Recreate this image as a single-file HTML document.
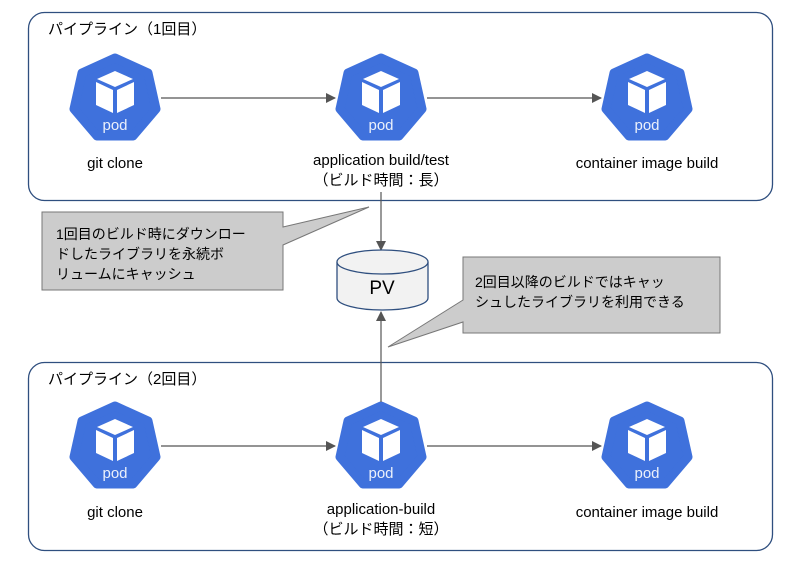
<!DOCTYPE html>
<html><head><meta charset="utf-8"><style>
body{margin:0;background:#fff}
svg{display:block}
text{font-family:"Liberation Sans","Noto Sans CJK JP",sans-serif}
</style></head><body>
<svg width="796" height="566" viewBox="0 0 796 566" xmlns="http://www.w3.org/2000/svg">
<defs>
<marker id="a" markerWidth="10" markerHeight="10" refX="9" refY="5" orient="auto" markerUnits="userSpaceOnUse"><path d="M0,0 L10,5 L0,10 Z" fill="#555"/></marker>
<g id="pod">
<path d="M0,-40 L33,-25 L41,11 L18,38 L-18,38 L-41,11 L-33,-25 Z" fill="#3f71dc" stroke="#3f71dc" stroke-width="9" stroke-linejoin="round"/>
<path d="M0,-27 L18,-19 L0,-11 L-18,-19 Z" fill="#fff"/>
<path d="M-19,-16 L-2,-8 L-2,15 L-19,7 Z" fill="#fff"/>
<path d="M19,-16 L2,-8 L2,15 L19,7 Z" fill="#fff"/>
<text x="0" y="32" font-size="15" fill="#fff" text-anchor="middle" opacity="0.9">pod</text>
</g>
</defs>
<rect x="28.5" y="12.5" width="744" height="188" rx="16" fill="#fff" stroke="#2f4f7f" stroke-width="1.3"/>
<rect x="28.5" y="362.5" width="744" height="188" rx="16" fill="#fff" stroke="#2f4f7f" stroke-width="1.3"/>
<text x="48" y="34" font-size="15">パイプライン（1回目）</text>
<text x="48" y="384" font-size="15">パイプライン（2回目）</text>

<use href="#pod" x="115" y="98"/>
<use href="#pod" x="381" y="98"/>
<use href="#pod" x="647" y="98"/>
<use href="#pod" x="115" y="446"/>
<use href="#pod" x="381" y="446"/>
<use href="#pod" x="647" y="446"/>

<g stroke="#555" stroke-width="1.2" fill="none">
<line x1="161" y1="98" x2="335" y2="98" marker-end="url(#a)"/>
<line x1="427" y1="98" x2="601" y2="98" marker-end="url(#a)"/>
<line x1="161" y1="446" x2="335" y2="446" marker-end="url(#a)"/>
<line x1="427" y1="446" x2="601" y2="446" marker-end="url(#a)"/>
<line x1="381" y1="192" x2="381" y2="250" marker-end="url(#a)"/>
<line x1="381" y1="402" x2="381" y2="312" marker-end="url(#a)"/>
</g>

<g font-size="15" text-anchor="middle" fill="#000">
<text x="115" y="168">git clone</text>
<text x="381" y="165">application build/test</text>
<text x="381" y="185">（ビルド時間：長）</text>
<text x="647" y="168">container image build</text>
<text x="115" y="517">git clone</text>
<text x="381" y="514">application-build</text>
<text x="381" y="534">（ビルド時間：短）</text>
<text x="647" y="517">container image build</text>
</g>

<path d="M42,212 L283,212 L283,227 L369,207 L283,245 L283,290 L42,290 Z" fill="#cccccc" stroke="#777" stroke-width="1"/>
<g font-size="14" fill="#000">
<text x="56" y="239">1回目のビルド時にダウンロー</text>
<text x="56" y="259">ドしたライブラリを永続ボ</text>
<text x="56" y="279">リュームにキャッシュ</text>
</g>

<path d="M463,257 L720,257 L720,333 L463,333 L463,322 L388,347 L463,300 Z" fill="#cccccc" stroke="#777" stroke-width="1"/>
<g font-size="14" fill="#000">
<text x="475" y="287">2回目以降のビルドではキャッ</text>
<text x="475" y="307">シュしたライブラリを利用できる</text>
</g>

<path d="M337,262 L337,298 A45.5,12 0 0 0 428,298 L428,262" fill="#f2f2f2" stroke="#2f4f7f" stroke-width="1.3"/>
<ellipse cx="382.5" cy="262" rx="45.5" ry="12" fill="#f2f2f2" stroke="#2f4f7f" stroke-width="1.3"/>
<text x="382" y="294" font-size="19" text-anchor="middle">PV</text>
</svg>
</body></html>
